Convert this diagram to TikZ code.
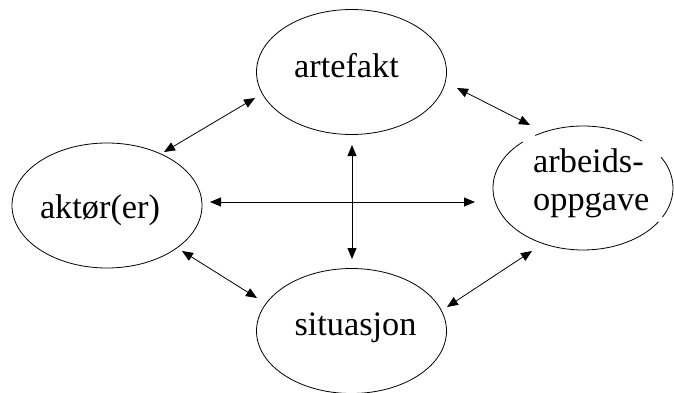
\documentclass[tikz,border=0pt]{standalone}
\usepackage{fontspec}
\setmainfont{Liberation Serif}
\usetikzlibrary{shapes.geometric,arrows.meta}
\begin{document}
\begin{tikzpicture}[x=1pt,y=1pt,
  blob/.style={draw,ellipse,line width=0.8pt,inner sep=0pt,minimum width=190pt,minimum height=125pt},
  lbl/.style={inner sep=0pt,font=\fontsize{34.3}{38.5}\selectfont},
  link/.style={line width=0.8pt,{Triangle[length=11pt,width=9pt]}-{Triangle[length=11pt,width=9pt]}},
  rim/.style={line width=0.8pt}]
\useasboundingbox (0,0) rectangle (674,392);
% ellipses
\node[blob] (artefakt) at (351.5,320) {};
\node[blob] (aktor) at (107,186.5) {};
\node[blob] (situasjon) at (351.5,61) {};
\node[ellipse,inner sep=0pt,minimum width=180pt,minimum height=124pt] (oppgave) at (583,204) {};
\draw[rim] ({583+90*cos(49)},{204+62*sin(49)}) arc[start angle=49,end angle=122,x radius=90pt,y radius=62pt];
\draw[rim] ({583+90*cos(132)},{204+62*sin(132)}) arc[start angle=132,end angle=327,x radius=90pt,y radius=62pt];
\draw[rim] ({583+90*cos(332)},{204+62*sin(332)}) arc[start angle=332,end angle=390,x radius=90pt,y radius=62pt];
% texts
\node[lbl,anchor=base] (artefakt-t) at (346.5,315) {artefakt};
\node[lbl,anchor=base] (aktor-t) at (100,174) {aktør(er)};
\node[lbl,anchor=base] (situasjon-t) at (355.5,57) {situasjon};
\node[lbl,anchor=base west] (oppgave-t1) at (533,220) {arbeids-};
\node[lbl,anchor=base west] (oppgave-t2) at (533,182) {oppgave};
% connector end points
\coordinate (a1) at (255,294); \coordinate (k1) at (164,240);
\coordinate (a2) at (457,304); \coordinate (o1) at (530,267);
\coordinate (k2) at (210,190); \coordinate (o2) at (475,190);
\coordinate (a3) at (352,247); \coordinate (s1) at (352,133);
\coordinate (k3) at (182,141); \coordinate (s2) at (257,94);
\coordinate (o3) at (532,141); \coordinate (s3) at (447,85);
% connectors
\draw[link] (a1) -- (k1);
\draw[link] (a2) -- (o1);
\draw[link] (k2) -- (o2);
\draw[link] (a3) -- (s1);
\draw[link] (k3) -- (s2);
\draw[link] (o3) -- (s3);
\end{tikzpicture}
\end{document}
